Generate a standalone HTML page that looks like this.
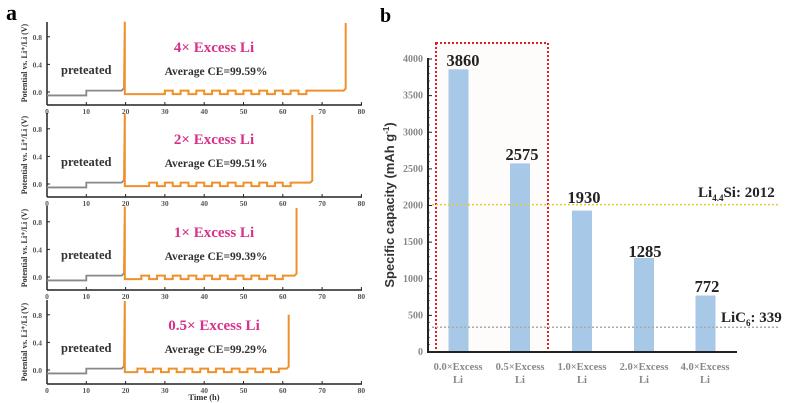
<!DOCTYPE html><html><head><style>body{margin:0;background:#fff}svg{display:block;font-family:"Liberation Serif",serif}</style></head><body>
<svg id="s" width="800" height="403" viewBox="0 0 800 403" xmlns="http://www.w3.org/2000/svg">
<text x="6" y="20" font-size="22" font-weight="bold">a</text>
<text x="380" y="22" font-size="20" font-weight="bold">b</text>
<g id="a"></g>
<rect x="436" y="43" width="112" height="309" fill="#fdfcfa" stroke="#e02020" stroke-width="2" stroke-dasharray="2,2"/>
<g fill="#a8c8e8">
<rect x="448.5" y="69.3" width="20" height="282.7"/>
<rect x="510" y="163.4" width="20" height="188.6"/>
<rect x="572" y="210.6" width="20" height="141.4"/>
<rect x="634" y="257.9" width="20" height="94.1"/>
<rect x="695.5" y="295.5" width="20" height="56.5"/>
</g>
<line x1="432" y1="204.6" x2="778" y2="204.6" stroke="#e8c840" stroke-width="1.5" stroke-dasharray="2,2"/>
<line x1="432" y1="327.2" x2="778" y2="327.2" stroke="#aaa" stroke-width="1.5" stroke-dasharray="2,2"/>
<g font-weight="bold" font-size="16.5" text-anchor="middle" fill="#222">
<text x="463" y="66">3860</text><text x="522" y="160">2575</text><text x="584" y="203">1930</text><text x="645" y="257">1285</text><text x="707" y="292">772</text>
</g>
<text x="698" y="197" font-size="15" font-weight="bold" fill="#222">Li<tspan font-size="9" dy="4">4.4</tspan><tspan dy="-4">Si: 2012</tspan></text>
<text x="721" y="322" font-size="15" font-weight="bold" fill="#222">LiC<tspan font-size="9" dy="4">6</tspan><tspan dy="-4">: 339</tspan></text>
<line x1="428" y1="58" x2="428" y2="353" stroke="#222" stroke-width="2"/>
<line x1="427" y1="352" x2="737" y2="352" stroke="#222" stroke-width="2"/>
<g id="bt" font-size="10" fill="#888" text-anchor="end" font-weight="bold"></g>
<text transform="translate(394,205) rotate(-90)" font-size="13" font-weight="bold" text-anchor="middle" fill="#333" font-family="Liberation Sans,sans-serif">Specific capacity (mAh g<tspan font-size="8" dy="-5">-1</tspan><tspan dy="5">)</tspan></text>
<g font-size="10.5" fill="#888" text-anchor="middle" font-weight="bold">
<text x="458" y="370">0.0×Excess</text><text x="458" y="383">Li</text>
<text x="520" y="370">0.5×Excess</text><text x="520" y="383">Li</text>
<text x="582" y="370">1.0×Excess</text><text x="582" y="383">Li</text>
<text x="644" y="370">2.0×Excess</text><text x="644" y="383">Li</text>
<text x="705" y="370">4.0×Excess</text><text x="705" y="383">Li</text>
</g>
</svg>
<script>
var NS="http://www.w3.org/2000/svg";
function el(p,t,a,txt){var e=document.createElementNS(NS,t);for(var k in a)e.setAttribute(k,a[k]);if(txt!=null)e.textContent=txt;p.appendChild(e);return e;}
var bt=document.getElementById('bt');
for(var v=0;v<=4000;v+=500){var y=352-v*0.07325;el(bt,'text',{x:423,y:y+3},v);el(bt,'line',{x1:428,x2:432,y1:y,y2:y,stroke:'#222'});}
for(var v=0;v<4000;v+=100){var y=352-v*0.07325;el(bt,'line',{x1:428,x2:430,y1:y,y2:y,stroke:'#222','stroke-width':0.6});}
var g=document.getElementById('a');
var panels=[{z:92,ax:105,end:76,lab:"4× Excess Li",ce:"99.59",ws:30,we:66},
{z:184,ax:197,end:67.5,lab:"2× Excess Li",ce:"99.51",ws:26,we:62},
{z:277,ax:290,end:63.5,lab:"1× Excess Li",ce:"99.39",ws:24,we:60},
{z:370,ax:384,end:61.5,lab:"0.5× Excess Li",ce:"99.29",ws:23,we:59}];
var ppv=69;
function X(t){return 47+t*3.93;}
panels.forEach(function(p,i){
 function Y(v){return p.z-v*ppv;}
 var top=i==0?22:p.ax-90+6;
 el(g,'line',{x1:47,x2:47,y1:top,y2:p.ax,stroke:'#222','stroke-width':1.5});
 el(g,'line',{x1:47,x2:362,y1:p.ax,y2:p.ax,stroke:'#222','stroke-width':1.5});
 [0,0.4,0.8].forEach(function(v){el(g,'text',{x:42,y:Y(v)+3,'font-size':7.5,'font-weight':'bold','fill':'#555','text-anchor':'end'},v.toFixed(1));el(g,'line',{x1:47,x2:50,y1:Y(v),y2:Y(v),stroke:'#222'});});
 for(var t=0;t<=80;t+=10){el(g,'text',{x:X(t),y:p.ax+9,'font-size':7.5,'font-weight':'bold','fill':'#555','text-anchor':'middle'},t);el(g,'line',{x1:X(t),x2:X(t),y1:p.ax,y2:p.ax-3,stroke:'#222'});}
 el(g,'text',{transform:'translate(27,'+(p.ax-42)+') rotate(-90)','font-size':8,'font-weight':'bold','fill':'#333','text-anchor':'middle'},"Potential vs. Li⁺/Li (V)");
 el(g,'path',{d:'M'+X(0)+','+Y(-0.05)+'H'+X(10)+'V'+Y(0.02)+'H'+X(19)+'L'+X(19.5)+','+Y(0.05),fill:'none',stroke:'#888','stroke-width':1.8});
 var d='M'+X(19.6)+','+Y(0.05)+'L'+X(19.8)+','+Y(i==3?1.0:1.02)+'V'+Y(-0.03)+'H'+X(p.ws);
 var t=p.ws;while(t+4<=p.we+0.1){d+='V'+Y(0.02)+'H'+X(t+2)+'V'+Y(-0.03)+'H'+X(t+4);t+=4;}
 d+='V'+Y(0.02)+'H'+X(p.end-0.5)+'L'+X(p.end)+','+Y(0.05)+'V'+Y(i==3?0.8:1.0);
 el(g,'path',{d:d,fill:'none',stroke:'#f0902c','stroke-width':2});
 el(g,'text',{x:61,y:p.z-18,'font-size':12.5,'font-weight':'bold','fill':'#333'},"preteated");
 el(g,'text',{x:214,y:p.z-40,'font-size':15,'font-weight':'bold','fill':'#d8308a','text-anchor':'middle'},p.lab);
 el(g,'text',{x:216,y:p.z-17,'font-size':11.5,'font-weight':'bold','fill':'#333','text-anchor':'middle'},"Average CE="+p.ce+"%");
});
el(g,'text',{x:204,y:400,'font-size':8.5,'font-weight':'bold','fill':'#333','text-anchor':'middle'},"Time (h)");
</script>
</body></html>
